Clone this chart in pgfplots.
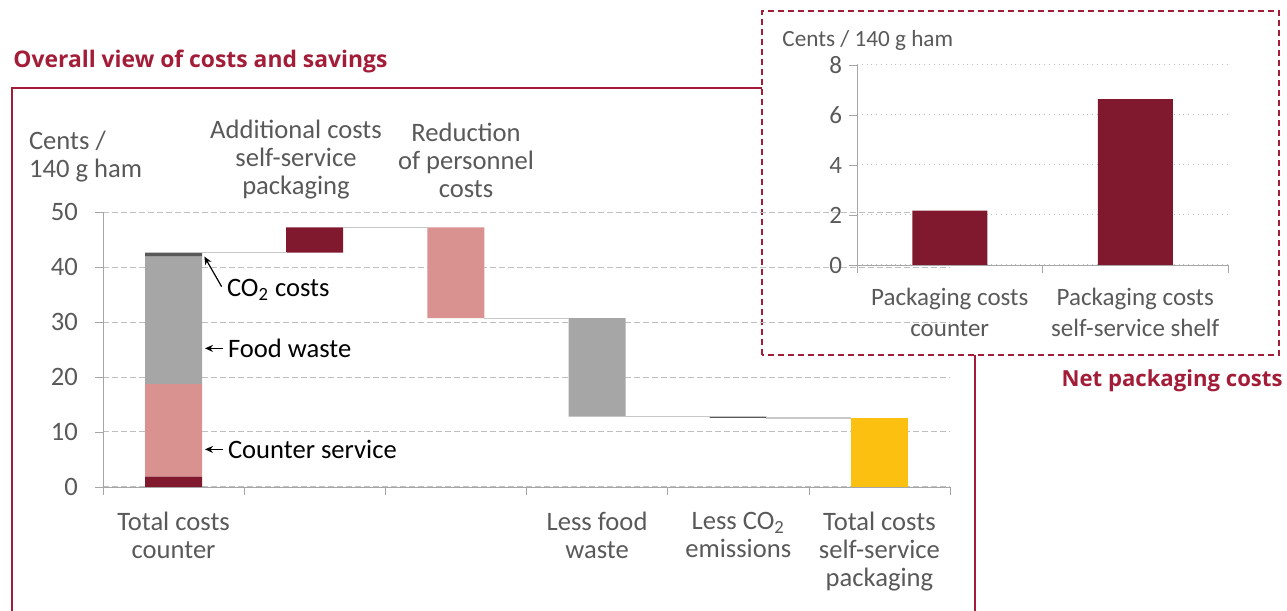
\documentclass[border=0pt]{standalone}
\usepackage{fontspec}
\setmainfont{Carlito}
\newfontfamily\titlefont{Open Sans}
\usepackage{pgfplots}
\pgfplotsset{compat=1.18}
\usetikzlibrary{arrows.meta}

\definecolor{wine}{RGB}{128,25,46}
\definecolor{rose}{RGB}{217,146,143}
\definecolor{midgray}{RGB}{166,166,166}
\definecolor{co2gray}{RGB}{89,89,89}
\definecolor{gold}{RGB}{252,192,17}
\definecolor{framered}{RGB}{163,29,57}
\definecolor{txtgray}{RGB}{89,89,89}
\definecolor{gridgray}{RGB}{191,191,191}
\definecolor{linkgray}{RGB}{200,200,200}

\begin{document}
\begin{tikzpicture}
\useasboundingbox (0,0) rectangle (643.5pt,305.5pt);

% frames
\draw[framered, line width=0.8pt] (6pt,0) -- (6pt,261.5pt) -- (381pt,261.5pt);
\draw[framered, line width=0.8pt] (487.5pt,128pt) -- (487.5pt,0);
\draw[framered, line width=0.6pt, dash pattern=on 3pt off 2pt] (381pt,128pt) rectangle (639.5pt,300pt);

\node[anchor=west, inner sep=0] at (6.5pt,274.5pt)
  {\resizebox{187pt}{!}{\titlefont\bfseries\color{framered}Overall view of costs and savings}};
\node[anchor=east, inner sep=0] at (641.5pt,115pt)
  {\resizebox{110.5pt}{!}{\titlefont\bfseries\color{framered}Net packaging costs}};

% main waterfall
\begin{axis}[
  at={(51.5pt,62pt)}, anchor=south west,
  scale only axis, width=423.5pt, height=137.5pt,
  xmin=-0.5, xmax=5.5, ymin=0, ymax=50,
  ybar stacked, bar width=28.5pt,
  axis lines=left, axis line style={midgray, -},
  font=\fontsize{13.3}{14}\selectfont,
  ytick={0,10,...,50}, ymajorgrids,
  grid style={gridgray, dash pattern=on 3pt off 1.5pt, line width=0.5pt},
  tick align=outside, major tick length=4pt, minor tick length=4pt,
  ytick style={midgray},
  major x tick style={draw=none}, minor x tick style={midgray},
  xtick={0,...,5}, minor xtick={-0.5,0.5,...,5.5},
  xticklabels={{Total costs\\counter},{},{},{Less food\\waste},{Less CO\textsubscript{2}\\emissions},{Total costs\\self-service\\packaging}},
  xticklabel style={align=center, text=txtgray, yshift=-5pt},
  yticklabel style={text=txtgray, xshift=-5pt},
  /pgf/number format/assume math mode=true,
]
\addplot[draw=none, fill=none] coordinates {(0,0)(1,42.6)(2,30.7)(3,12.8)(4,12.55)(5,0)};
\addplot[draw=none, fill=wine] coordinates {(0,1.9)(1,4.6)(2,0)(3,0)(4,0)(5,0)};
\addplot[draw=none, fill=rose] coordinates {(0,16.8)(1,0)(2,16.5)(3,0)(4,0)(5,0)};
\addplot[draw=none, fill=midgray] coordinates {(0,23.2)(1,0)(2,0)(3,17.9)(4,0)(5,0)};
\addplot[draw=none, fill=co2gray] coordinates {(0,0.7)(1,0)(2,0)(3,0)(4,0.25)(5,0)};
\addplot[draw=none, fill=gold] coordinates {(0,0)(1,0)(2,0)(3,0)(4,0)(5,12.5)};
\end{axis}

% connector lines
\begin{axis}[
  at={(51.5pt,62pt)}, anchor=south west,
  scale only axis, width=423.5pt, height=137.5pt,
  xmin=-0.5, xmax=5.5, ymin=0, ymax=50, hide axis,
]
\addplot[linkgray, line width=0.6pt] coordinates {(0.2,42.6)(0.8,42.6)};
\addplot[linkgray, line width=0.6pt] coordinates {(1.2,47.2)(1.8,47.2)};
\addplot[linkgray, line width=0.6pt] coordinates {(2.2,30.7)(2.8,30.7)};
\addplot[linkgray, line width=0.6pt] coordinates {(3.2,12.8)(3.8,12.8)};
\addplot[linkgray, line width=0.6pt] coordinates {(4.2,12.55)(4.8,12.55)};
\end{axis}

% labels of the main chart
\node[anchor=west, align=left, text=txtgray, font=\fontsize{13.3}{14}\selectfont] at (11pt,227pt) {Cents /\\140 g ham};
\node[align=center, text=txtgray, font=\fontsize{13.3}{14}\selectfont] at (148pt,225.5pt) {Additional costs\\self-service\\packaging};
\node[align=center, text=txtgray, font=\fontsize{13.3}{14}\selectfont] at (233pt,225.5pt) {Reduction\\of personnel\\costs};

\begin{scope}[font=\fontsize{13.3}{14}\selectfont, line width=0.6pt, -{Stealth[length=4pt,width=3.5pt]}]
\draw (110.8pt,162.2pt) -- (102.2pt,177.2pt);
\draw (111.5pt,131.3pt) -- (102.5pt,131.3pt);
\draw (111.5pt,80.8pt) -- (102.5pt,80.8pt);
\end{scope}
\node[anchor=west, inner sep=0, font=\fontsize{13.3}{14}\selectfont] at (113.3pt,160.5pt) {CO\textsubscript{2} costs};
\node[anchor=west, inner sep=0, font=\fontsize{13.3}{14}\selectfont] at (113.8pt,131.3pt) {Food waste};
\node[anchor=west, inner sep=0, font=\fontsize{13.3}{14}\selectfont] at (113.8pt,80.8pt) {Counter service};

% inset: net packaging costs
\begin{axis}[
  at={(428.5pt,173pt)}, anchor=south west,
  scale only axis, width=185.5pt, height=100pt,
  xmin=-0.5, xmax=1.5, ymin=0, ymax=8,
  ybar, bar width=37.5pt,
  axis lines=left, axis line style={midgray, -},
  font=\fontsize{12.5}{15.5}\selectfont,
  ytick={0,2,...,8}, ymajorgrids,
  grid style={gridgray, dotted, line width=0.5pt},
  tick align=outside, major tick length=4pt, minor tick length=4pt,
  ytick style={midgray},
  major x tick style={draw=none}, minor x tick style={midgray},
  xtick={0,1}, minor xtick={-0.5,0.5,1.5},
  xticklabels={{Packaging costs\\counter},{Packaging costs\\self-service shelf}},
  xticklabel style={align=center, text=txtgray, yshift=-4pt},
  yticklabel style={text=txtgray},
  /pgf/number format/assume math mode=true,
]
\addplot[draw=none, fill=wine] coordinates {(0,2.17)(1,6.63)};
\end{axis}
\node[anchor=west, text=txtgray, inner sep=0, font=\fontsize{11.6}{14}\selectfont] at (391pt,285.5pt) {Cents / 140 g ham};

\end{tikzpicture}
\end{document}
